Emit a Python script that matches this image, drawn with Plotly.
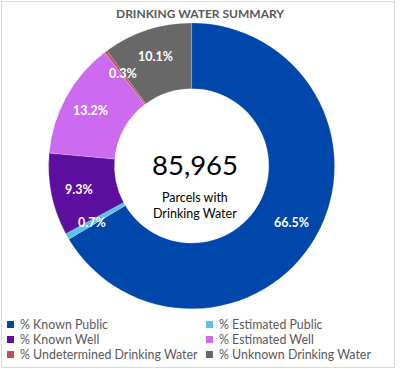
import math
import plotly.graph_objects as go

# ---- data ----
categories = ["% Known Public", "% Estimated Public", "% Known Well",
              "% Estimated Well", "% Undetermined Drinking Water",
              "% Unknown Drinking Water"]
values = [66.5, 0.7, 9.3, 13.2, 0.3, 10.1]
colors = ["#0047AB", "#5BC2E7", "#5C0F9E", "#CC6AF0", "#C0504D", "#686868"]
total_parcels = 85965
center_caption = ["Parcels with", "Drinking Water"]
title_text = "DRINKING WATER SUMMARY"

W, H = 400, 369
FONT = "Lato, 'Open Sans', sans-serif"
GREY = "#595959"

# pie geometry (paper fractions)
dom_x = [0.12, 0.838]
dom_y = [0.163, 0.938]
HOLE = 0.54

fig = go.Figure(go.Pie(
    labels=categories, values=values, sort=False, direction="clockwise",
    rotation=0, hole=HOLE, textinfo="none", hoverinfo="label+percent",
    marker=dict(colors=colors, line=dict(color="rgba(255,255,255,0.3)", width=0.6)),
    domain=dict(x=dom_x, y=dom_y), showlegend=False,
))


def ann(x, y, text, size, color, xanchor="center"):
    return dict(x=x / W, y=1 - y / H, xref="paper", yref="paper", text=text,
                showarrow=False, xanchor=xanchor, yanchor="middle",
                font=dict(family=FONT, size=size, color=color))


# label positions derived from the data (mid-angle of each slice)
cx = (dom_x[0] + dom_x[1]) / 2 * W
cy = (1 - (dom_y[0] + dom_y[1]) / 2) * H
R = min((dom_x[1] - dom_x[0]) * W, (dom_y[1] - dom_y[0]) * H) / 2
rmid = R * (1 + HOLE) / 2 + 5
tot = sum(values)
annotations = []
cum = 0.0
for v in values:
    mid = (cum + v / 2) / tot * 2 * math.pi
    cum += v
    px = cx + rmid * math.sin(mid)
    py = cy - rmid * math.cos(mid)
    annotations.append(ann(px, py, f"<b>{v:.1f}%</b>", 12.5, "white"))

# title
annotations.append(ann(W / 2, 14, f"<b>{title_text}</b>", 12, GREY))
# centre text
annotations.append(ann(cx + 3, cy - 1, f"{total_parcels:,}", 27.5, "black"))
for i, line in enumerate(center_caption):
    annotations.append(ann(cx + 3, 197 + 16 * i, line, 12.5, "black"))

# legend (two columns)
shapes = []
col_x = [7, 206]
row_y = [324.5, 339.5, 354.5]
for i, (name, c) in enumerate(zip(categories, colors)):
    x0 = col_x[i % 2]
    yc = row_y[i // 2]
    shapes.append(dict(type="rect", xref="paper", yref="paper",
                       x0=x0 / W, x1=(x0 + 7) / W, y0=1 - (yc - 3.5) / H, y1=1 - (yc + 3.5) / H,
                       fillcolor=c, line=dict(width=0)))
    annotations.append(ann(x0 + 11, yc, name, 12.4, GREY, xanchor="left"))

# outer border
shapes.append(dict(type="rect", xref="paper", yref="paper",
                   x0=1.5 / W, x1=394.5 / W, y0=1 - 1.5 / H, y1=1 - 367.5 / H,
                   line=dict(color="#D9D9D9", width=1), fillcolor="rgba(0,0,0,0)"))

fig.update_layout(width=W, height=H, margin=dict(l=0, r=0, t=0, b=0),
                  paper_bgcolor="white", plot_bgcolor="white",
                  annotations=annotations, shapes=shapes, showlegend=False)
fig.write_html("out.html", config={"displayModeBar": False},
               post_script="document.body.style.margin='0';document.body.style.padding='0';")
